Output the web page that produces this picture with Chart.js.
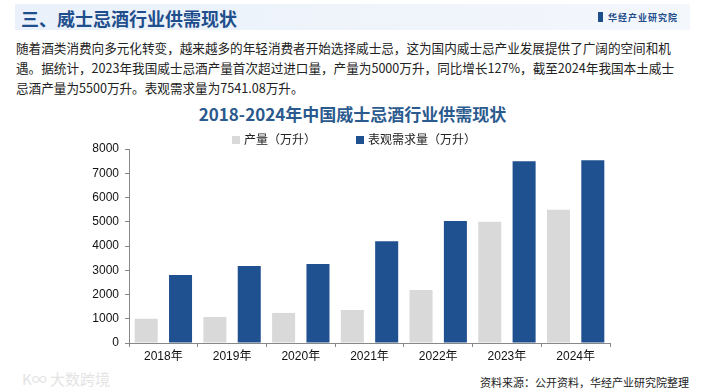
<!DOCTYPE html>
<html>
<head>
<meta charset="utf-8">
<script src="https://cdn.jsdelivr.net/npm/chart.js@4"></script>
<style>
  body { margin: 0; width: 705px; height: 392px; background: #fff; position: relative; overflow: hidden;
         font-family: "Liberation Sans", "Noto Sans CJK SC", sans-serif; }
  .head { position: absolute; left: 15px; top: 4px; width: 675px; height: 26px;
          background: linear-gradient(90deg, #eaf1fa, #f4f7fc); }
  .head h1 { margin: 0; position: absolute; left: 6px; top: 1px; font-size: 18px; font-weight: bold;
             color: #1f4e8c; font-family: "Noto Sans CJK SC", sans-serif; }
  .head .logo { position: absolute; right: 12px; top: 7px; font-size: 9px; font-weight: bold; color: #1f4e8c;
                letter-spacing: 1px; font-family: "Noto Sans CJK SC", sans-serif; }
  .head .logo b { display: inline-block; width: 5px; height: 10px; background: #1f4e8c; margin-right: 5px; vertical-align: -1px; }
  .para { position: absolute; left: 16px; top: 38px; width: 680px; font-size: 12.6px; line-height: 20px; color: #222;
          font-family: "Noto Sans CJK SC", sans-serif; }
  .title { position: absolute; left: 0; width: 705px; top: 101px; text-align: center; font-size: 17px;
           font-weight: bold; color: #2b5a8e; font-family: "Noto Sans CJK SC", sans-serif; }
  .legend { position: absolute; top: 130px; font-size: 12px; color: #222; font-family: "Noto Sans CJK SC", sans-serif; }
  .legend i { display: inline-block; width: 8px; height: 8px; margin-right: 4px; vertical-align: 0px; }
  .wrap { position: absolute; left: 0; top: 128px; width: 705px; height: 240px; }
  .src { position: absolute; right: 16px; top: 374px; font-size: 11px; color: #222; font-family: "Noto Sans CJK SC", sans-serif; }
  .wm { position: absolute; left: 22px; top: 368px; font-size: 15px; color: #e4e4e4; font-family: "Noto Sans CJK SC", sans-serif; }
</style>
</head>
<body>
<div class="head"><h1>三、威士忌酒行业供需现状</h1><div class="logo"><b></b>华经产业研究院</div></div>
<div class="para">随着酒类消费向多元化转变，越来越多的年轻消费者开始选择威士忌，这为国内威士忌产业发展提供了广阔的空间和机遇。据统计，2023年我国威士忌酒产量首次超过进口量，产量为5000万升，同比增长127%，截至2024年我国本土威士<br>忌酒产量为5500万升。表观需求量为7541.08万升。</div>
<div class="title">2018-2024年中国威士忌酒行业供需现状</div>
<div class="wrap"><canvas id="c"></canvas></div>
<div class="legend" id="lg0" style="left:232px"><i style="background:#d9d9d9"></i><span></span></div>
<div class="legend" id="lg1" style="left:356px"><i style="background:#1f5090"></i><span></span></div>
<div class="wm">K∞ 大数跨境</div>
<div class="src">资料来源：公开资料，华经产业研究院整理</div>
<script>
const years = ['2018年', '2019年', '2020年', '2021年', '2022年', '2023年', '2024年'];
const output = [1000, 1070, 1240, 1360, 2190, 5000, 5500];
const demand = [2800, 3180, 3260, 4200, 5030, 7500, 7541.08];
const seriesNames = ['产量（万升）', '表观需求量（万升）'];

document.querySelector('#lg0 span').textContent = seriesNames[0];
document.querySelector('#lg1 span').textContent = seriesNames[1];

const font = { family: '"Liberation Sans", "Noto Sans CJK SC", sans-serif', size: 12 };

new Chart(document.getElementById('c'), {
  type: 'bar',
  data: {
    labels: years,
    datasets: [
      { label: seriesNames[0], data: output, backgroundColor: '#d9d9d9' },
      { label: seriesNames[1], data: demand, backgroundColor: '#1f5090' }
    ]
  },
  options: {
    responsive: true,
    maintainAspectRatio: false,
    animation: false,
    datasets: { bar: { categoryPercentage: 1, barPercentage: 0.67 } },
    layout: { padding: { left: 0, right: 95, top: 21, bottom: 0 } },
    plugins: {
      tooltip: { enabled: false },
      legend: { display: false }
    },
    scales: {
      x: {
        border: { color: '#888' },
        grid: { display: true, drawOnChartArea: false, drawTicks: true, tickLength: 4, color: '#888', offset: true },
        ticks: { color: '#111', font: font, padding: 2 },
        afterFit: s => { s.height = 25; }
      },
      y: {
        min: 0, max: 8000,
        border: { color: '#888' },
        grid: { display: true, drawOnChartArea: false, drawTicks: true, tickLength: 4, color: '#888' },
        ticks: { stepSize: 1000, color: '#111', font: font, padding: 6, callback: v => String(v) },
        afterFit: s => { s.width = 129; }
      }
    }
  }
});
</script>
</body>
</html>
